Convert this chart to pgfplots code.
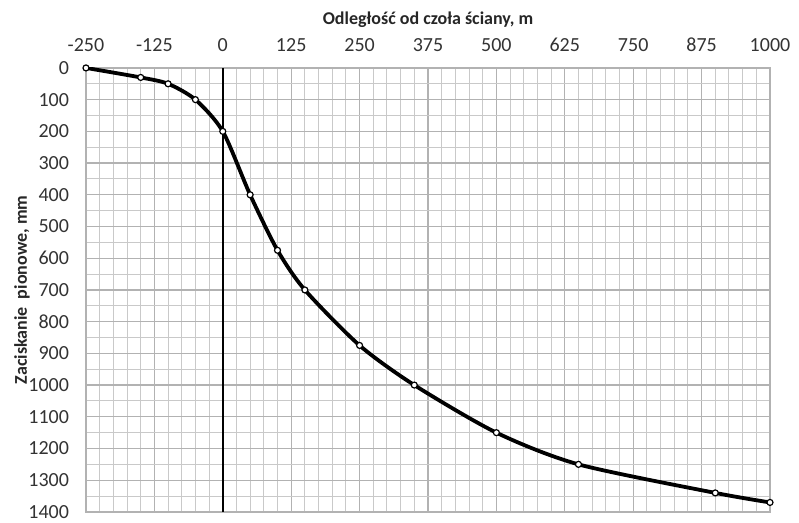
\documentclass[border=0pt]{standalone}
\usepackage{fontspec}
\setmainfont{Carlito}
\usepackage{pgfplots}
\pgfplotsset{compat=1.18}

\begin{document}
\begin{tikzpicture}
\begin{axis}[
  scale only axis,
  width=342pt, height=222pt,
  xmin=-250, xmax=1000,
  ymin=0, ymax=1400,
  y dir=reverse,
  xtick distance=125,
  ytick distance=100,
  minor x tick num=4,
  minor y tick num=1,
  grid=both,
  major grid style={gray!60, line width=0.6pt},
  minor grid style={gray!42, line width=0.5pt},
  axis line style={gray!60, line width=0.6pt},
  major tick length=0pt, minor tick length=0pt,
  xticklabel pos=top,
  xlabel={\bfseries Odległość od czoła ściany, m},
  ylabel={\bfseries Zaciskanie\ \ pionowe, mm},
  label style={font=\fontsize{9}{10}\selectfont, text=black!85},
  tick label style={font=\fontsize{10}{11}\selectfont, text=black!80},
  /pgf/number format/assume math mode=true,
  /pgf/number format/1000 sep={},
  xticklabel style={yshift=4.5pt},
  yticklabel style={xshift=-5pt},
  ylabel style={at={(axis description cs:-0.0936,0.5)}, anchor=center},
  xlabel style={at={(axis description cs:0.5,1.108)}, anchor=center},
]
\addplot[black, line width=1.9pt, smooth, tension=0.45,
  mark=*, mark size=1.5pt, mark options={fill=white, draw=black, line width=0.6pt}]
  coordinates {(-250,0) (-150,30) (-100,50) (-50,100) (0,200) (50,400)
  (100,575) (150,700) (250,875) (350,1000) (500,1150) (650,1250)
  (900,1340) (1000,1370)};
\draw[black, line width=1.2pt] (axis cs:0,0) -- (axis cs:0,1400);
\coordinate (bl) at (rel axis cs:-0.1257,-0.0248);
\coordinate (tr) at (rel axis cs:1.0424,1.153);
\end{axis}
\pgfresetboundingbox
\path[use as bounding box] (bl) rectangle (tr);
\end{tikzpicture}
\end{document}
